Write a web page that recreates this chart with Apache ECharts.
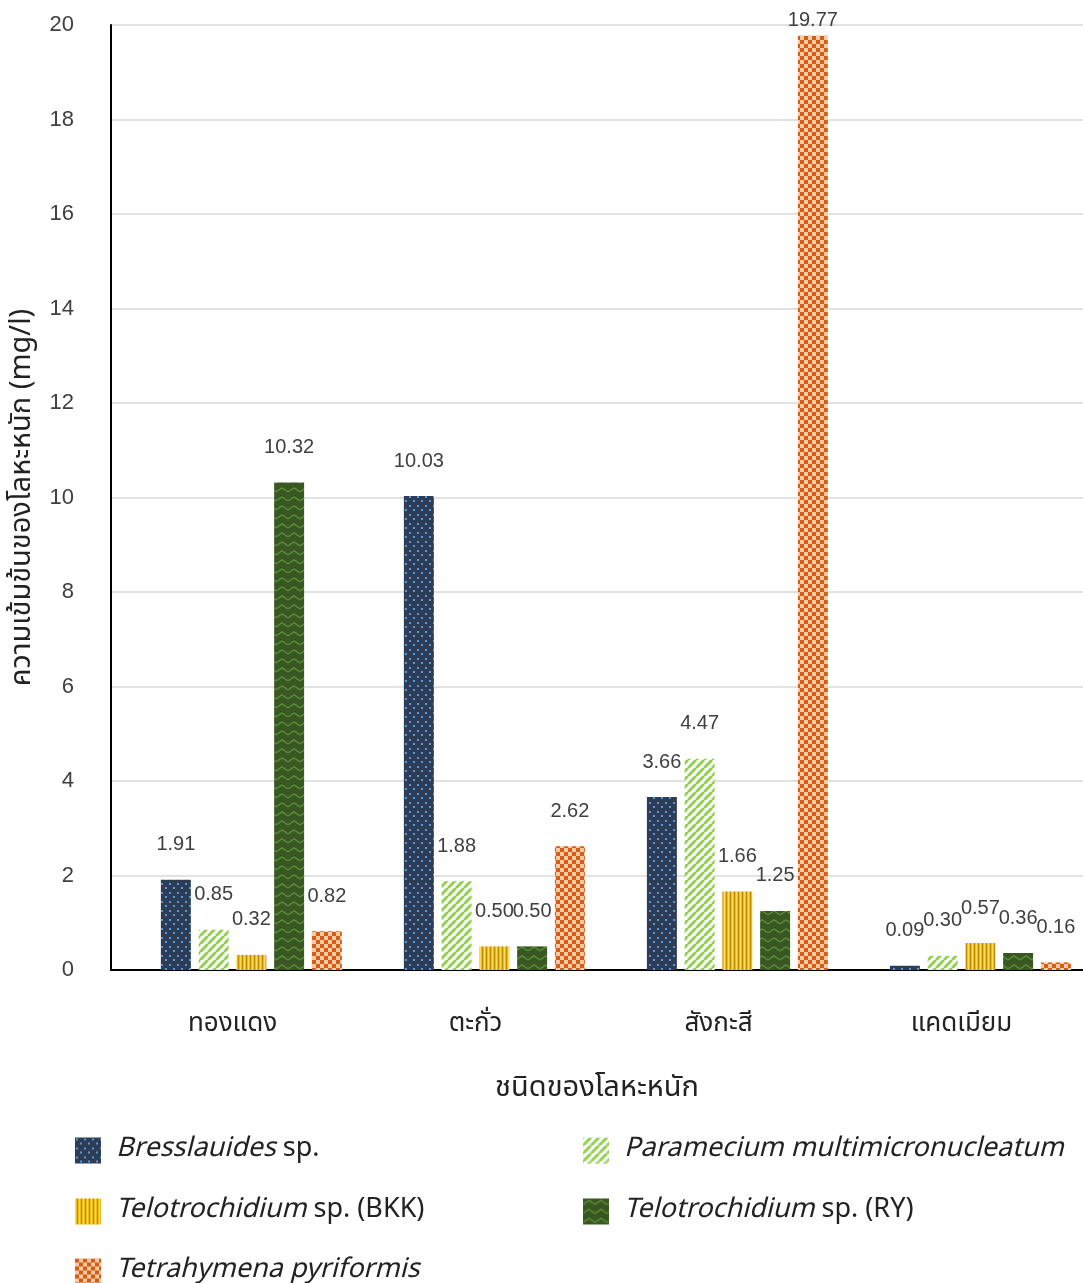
<!DOCTYPE html>
<html><head><meta charset="utf-8">
<script src="https://cdn.jsdelivr.net/npm/echarts@6/dist/echarts.min.js"></script>
<style>html,body{margin:0;padding:0;background:#fff}#c{width:1083px;height:1283px}</style>
</head><body><div id="c"></div>
<script>
const categories = ['ทองแดง', 'ตะกั่ว', 'สังกะสี', 'แคดเมียม'];
const seriesNames = ['Bresslauides sp.', 'Paramecium multimicronucleatum', 'Telotrochidium sp. (BKK)', 'Telotrochidium sp. (RY)', 'Tetrahymena pyriformis'];
const bresslauides = [1.91, 10.03, 3.66, 0.09];
const paramecium = [0.85, 1.88, 4.47, 0.30];
const telotrochBKK = [0.32, 0.50, 1.66, 0.57];
const telotrochRY = [10.32, 0.50, 1.25, 0.36];
const tetrahymena = [0.82, 2.62, 19.77, 0.16];
const yTicks = [0, 2, 4, 6, 8, 10, 12, 14, 16, 18, 20];

function tile(w, h, draw) {
  const c = document.createElement('canvas'); c.width = w; c.height = h;
  draw(c.getContext('2d'), w, h); return c;
}
const pDots = tile(8, 9, (g, w, h) => {
  g.fillStyle = '#2e3c56'; g.fillRect(0, 0, w, h);
  g.fillStyle = '#5398d8';
  g.fillRect(1, 1, 2, 2); g.fillRect(5, 5, 2, 2);
});
const pStripe = tile(8, 8, (g, w, h) => {
  g.fillStyle = '#ffffff'; g.fillRect(0, 0, w, h);
  g.strokeStyle = '#92d050'; g.lineWidth = 3;
  for (let k = -2; k <= 2; k++) {
    g.beginPath(); g.moveTo(k * 8, 8); g.lineTo(k * 8 + 8, 0); g.stroke();
  }
});
const pVert = tile(4, 4, (g, w, h) => {
  g.fillStyle = '#ecbc1c'; g.fillRect(0, 0, w, h);
  g.fillStyle = '#c08e00'; g.fillRect(2, 0, 1, h);
  g.fillStyle = '#ffdc60'; g.fillRect(0, 0, 1, h);
});
const pZig = tile(12, 9, (g, w, h) => {
  g.fillStyle = '#385723'; g.fillRect(0, 0, w, h);
  g.strokeStyle = '#5a8a34'; g.lineWidth = 1.5;
  g.beginPath(); g.moveTo(0, 6); g.lineTo(6, 2); g.lineTo(12, 6); g.stroke();
});
const pCheck = tile(8, 8, (g, w, h) => {
  g.fillStyle = '#f8c9a6'; g.fillRect(0, 0, w, h);
  g.fillStyle = '#d45f14'; g.fillRect(0, 0, 4, 4); g.fillRect(4, 4, 4, 4);
});
const patterns = [pDots, pStripe, pVert, pZig, pCheck];
const dataSets = [bresslauides, paramecium, telotrochBKK, telotrochRY, tetrahymena];

const numFont = '"Liberation Sans", Arial, sans-serif';
const thaiFont = '"Noto Sans Thai", "Noto Sans", sans-serif';
const yMax = yTicks[yTicks.length - 1];

// empty leading slot reproduces the original's off-centre bar group
const series = [{
  name: '_blank', type: 'bar', data: categories.map(() => null),
  barGap: '26%', barCategoryGap: '10%', silent: true
}].concat(seriesNames.map((n, i) => ({
  name: n, type: 'bar',
  data: dataSets[i].map(v => v > yMax * 0.95 ? { value: v, label: { distance: 5 } } : v),
  barGap: '26%', barCategoryGap: '10%',
  itemStyle: { color: { image: patterns[i], repetition: 'repeat' } },
  label: { show: true, position: 'top', distance: 25, fontSize: 20, color: '#404040', fontFamily: numFont,
    formatter: p => p.value.toFixed(2) }
})));

const legendFmt = {
  'Bresslauides sp.': '{i|Bresslauides}{n| sp.}',
  'Paramecium multimicronucleatum': '{i|Paramecium multimicronucleatum}',
  'Telotrochidium sp. (BKK)': '{i|Telotrochidium}{n| sp. (BKK)}',
  'Telotrochidium sp. (RY)': '{i|Telotrochidium}{n| sp. (RY)}',
  'Tetrahymena pyriformis': '{i|Tetrahymena pyriformis}'
};
const legendPos = [[75, 1137], [583, 1137], [75, 1198], [583, 1198], [75, 1258]];
const legends = seriesNames.map((n, i) => ({
  data: [n], left: legendPos[i][0], top: legendPos[i][1], orient: 'horizontal', padding: 0,
  itemWidth: 26, itemHeight: 26, itemGap: 0, selectedMode: false, icon: 'rect',
  formatter: nm => legendFmt[nm],
  textStyle: {
    padding: [0, 0, 0, 10],
    rich: {
      i: { fontSize: 27, fontStyle: 'italic', color: '#222', fontFamily: thaiFont },
      n: { fontSize: 27, color: '#222', fontFamily: thaiFont }
    }
  }
}));

const chart = echarts.init(document.getElementById('c'), null, { renderer: 'canvas' });
chart.setOption({
  animation: false,
  backgroundColor: '#fff',
  grid: { left: 111, right: -4, top: 25, bottom: 313, containLabel: false },
  legend: legends,
  xAxis: {
    type: 'category', data: categories,
    axisLine: { lineStyle: { color: '#000', width: 2 } },
    axisTick: { show: false },
    axisLabel: { fontSize: 26, color: '#222', margin: 43, fontFamily: thaiFont },
    name: 'ชนิดของโลหะหนัก', nameLocation: 'middle', nameGap: 106,
    nameTextStyle: { fontSize: 29, color: '#222', fontFamily: thaiFont }
  },
  yAxis: {
    type: 'value', min: yTicks[0], max: yMax, interval: 2,
    axisLine: { show: true, lineStyle: { color: '#000', width: 2 } },
    axisTick: { show: false },
    splitLine: { lineStyle: { color: '#d9d9d9', width: 1.5 } },
    axisLabel: { fontSize: 22, color: '#404040', margin: 37, fontFamily: numFont },
    name: 'ความเข้มข้นของโลหะหนัก (mg/l)', nameLocation: 'middle', nameGap: 64,
    nameTextStyle: { fontSize: 29, color: '#222', fontFamily: thaiFont }
  },
  series: series
});
</script></body></html>
